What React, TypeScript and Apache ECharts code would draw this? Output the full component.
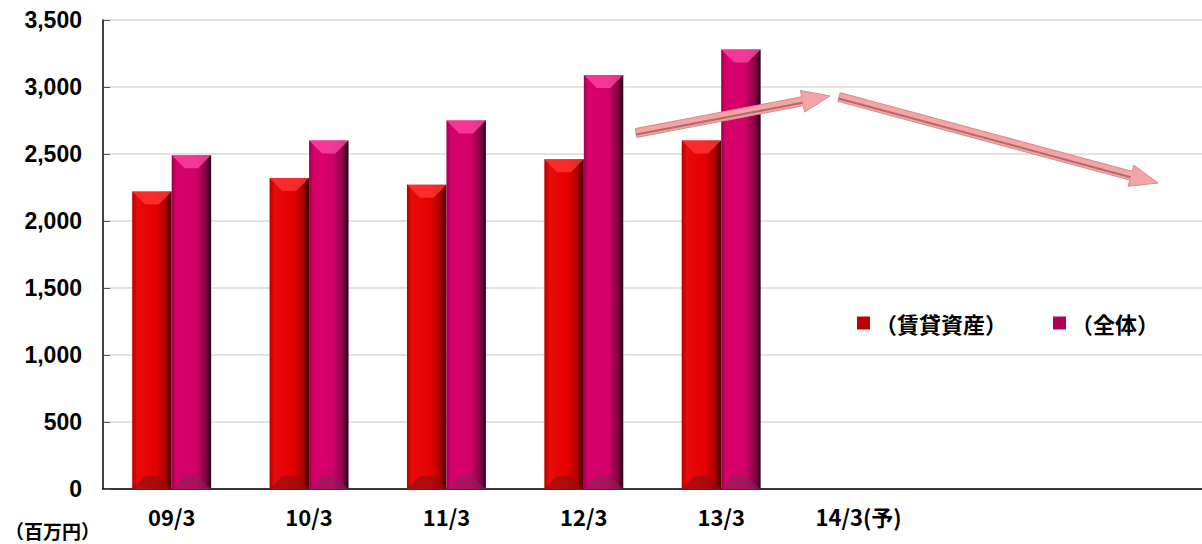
import React, { useEffect, useRef } from "react";
import * as echarts from "echarts";

const categories = ["09/3", "10/3", "11/3", "12/3", "13/3", "14/3(予)", "", ""];
const rentalAssets = [2220, 2320, 2270, 2460, 2600];
const overall = [2490, 2600, 2750, 3090, 3280];
const seriesNames = ["（賃貸資産）", "（全体）"];
const yTicks = { min: 0, max: 3500, interval: 500 };
const unitLabel = "（百万円）";

const JP = "'Noto Sans CJK JP', 'Noto Sans', sans-serif";
const NUM = "'Liberation Sans', Arial, sans-serif";

function arrowPoints(x0: number, y0: number, x1: number, y1: number, shaft: number, head: number, headLen: number) {
  const dx = x1 - x0, dy = y1 - y0;
  const L = Math.hypot(dx, dy);
  const ux = dx / L, uy = dy / L;
  const nx = -uy, ny = ux;
  const bx = x1 - ux * headLen, by = y1 - uy * headLen;
  return [
    [x0 + nx * shaft / 2, y0 + ny * shaft / 2],
    [bx + nx * shaft / 2, by + ny * shaft / 2],
    [bx + nx * head / 2, by + ny * head / 2],
    [x1, y1],
    [bx - nx * head / 2, by - ny * head / 2],
    [bx - nx * shaft / 2, by - ny * shaft / 2],
    [x0 - nx * shaft / 2, y0 - ny * shaft / 2],
  ];
}

function arrowGraphic(x0: number, y0: number, x1: number, y1: number) {
  const pts = arrowPoints(x0, y0, x1, y1, 9, 22, 28);
  const dx = x1 - x0, dy = y1 - y0;
  const L = Math.hypot(dx, dy);
  const nx = -dy / L, ny = dx / L;
  return [
    {
      type: "polygon",
      shape: { points: pts },
      style: { fill: "#f4a4a4", stroke: "#d88a8a", lineWidth: 1 },
      z: 100,
    },
    {
      type: "line",
      shape: {
        x1: x0 + nx * 1.5, y1: y0 + ny * 1.5,
        x2: x1 - (dx / L) * 28 + nx * 1.5, y2: y1 - (dy / L) * 28 + ny * 1.5,
      },
      style: { stroke: "#b36a6a", lineWidth: 2 },
      z: 101,
    },
  ];
}

const palettes = [
  {
    stops: ["#b00000", "#e80a0a", "#e60000", "#a80000", "#3a0000"],
    top: "#ff3a3a",
    bottom: "#8a1010",
    legend: "#c00000",
  },
  {
    stops: ["#a0004c", "#d8006c", "#d4006a", "#8a0045", "#2a0015"],
    top: "#ff4aa8",
    bottom: "#8a2058",
    legend: "#b0005a",
  },
];

function makeRender(side: number) {
  const p = palettes[side];
  return (params: any, api: any) => {
    const xi = api.value(0);
    const v = api.value(1);
    const base = api.coord([xi, 0]);
    const top = api.coord([xi, v]);
    const catW = api.size([1, 0])[0];
    const bw = catW * 0.2873;
    const x0 = side === 0 ? base[0] - bw : base[0];
    const x1 = x0 + bw;
    const y0 = top[1];
    const y1 = base[1];
    const bev = 13;
    const grad = new echarts.graphic.LinearGradient(0, 0, 1, 0, [
      { offset: 0, color: p.stops[0] },
      { offset: 0.12, color: p.stops[1] },
      { offset: 0.6, color: p.stops[2] },
      { offset: 0.85, color: p.stops[3] },
      { offset: 1, color: p.stops[4] },
    ]);
    return {
      type: "group",
      children: [
        { type: "rect", shape: { x: x0, y: y0, width: bw, height: y1 - y0 }, style: { fill: grad } },
        {
          type: "polygon",
          shape: { points: [[x0, y0], [x1, y0], [x1 - bev, y0 + bev], [x0 + bev, y0 + bev]] },
          style: { fill: p.top, opacity: 0.75 },
        },
        {
          type: "polygon",
          shape: { points: [[x0, y1], [x1, y1], [x1 - bev, y1 - bev], [x0 + bev, y1 - bev]] },
          style: { fill: p.bottom, opacity: 0.6 },
        },
      ],
    };
  };
}

export default function App() {
  const ref = useRef<HTMLDivElement>(null);
  useEffect(() => {
    if (!ref.current) return;
    const chart = echarts.init(ref.current, undefined, { renderer: "svg" });
    chart.setOption({
      animation: false,
      grid: { left: 103, right: 0, top: 20, bottom: 55, containLabel: false },
      legend: {
        left: 857,
        top: 312,
        padding: 0,
        itemWidth: 13,
        itemHeight: 13,
        itemGap: 46,
        icon: "rect",
        textStyle: { fontSize: 22, fontWeight: "bold", fontFamily: JP, color: "#000" },
        data: seriesNames,
      },
      xAxis: {
        type: "category",
        data: categories,
        axisLine: { lineStyle: { color: "#000", width: 1.5 } },
        axisTick: { inside: true, length: 5, lineStyle: { color: "#888" } },
        axisLabel: { fontSize: 22, fontWeight: "bold", fontFamily: JP, color: "#000", margin: 16, interval: 0 },
      },
      yAxis: {
        type: "value",
        min: yTicks.min,
        max: yTicks.max,
        interval: yTicks.interval,
        axisLine: { show: true, lineStyle: { color: "#000", width: 1.5 } },
        axisTick: { show: true, inside: true, length: 7, lineStyle: { color: "#555" } },
        splitLine: { lineStyle: { color: "#d9d9d9", width: 1.5 } },
        axisLabel: {
          fontSize: 23,
          fontWeight: "bold",
          fontFamily: NUM,
          color: "#000",
          margin: 21,
          formatter: (v: number) => v.toLocaleString("en-US"),
        },
      },
      series: [
        {
          name: seriesNames[0],
          type: "custom",
          renderItem: makeRender(0),
          encode: { x: 0, y: 1 },
          itemStyle: { color: palettes[0].legend },
          data: rentalAssets.map((v, i) => [i, v]),
          z: 2,
        },
        {
          name: seriesNames[1],
          type: "custom",
          renderItem: makeRender(1),
          encode: { x: 0, y: 1 },
          itemStyle: { color: palettes[1].legend },
          data: overall.map((v, i) => [i, v]),
          z: 2,
        },
      ],
      graphic: [
        ...arrowGraphic(636, 133, 830, 96),
        ...arrowGraphic(839, 97, 1158, 183),
        {
          type: "text",
          left: 5,
          top: 521,
          style: { text: unitLabel, fontSize: 19, fontWeight: "bold", fontFamily: JP, fill: "#000" },
        },
      ],
    });
    return () => chart.dispose();
  }, []);
  return (
    <div
      ref={ref}
      style={{ position: "absolute", left: 0, top: 0, width: 1202, height: 544, background: "#fff" }}
    />
  );
}
